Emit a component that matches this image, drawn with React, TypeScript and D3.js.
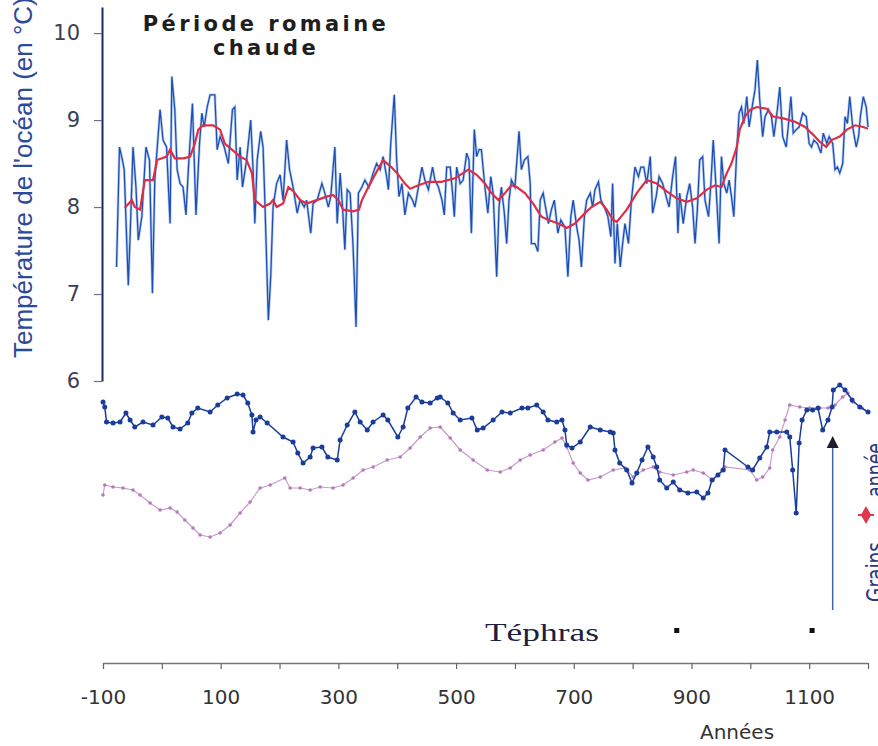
import React, { useRef, useEffect } from 'react';
import * as d3 from 'd3';

// ocean temperature (°C), high resolution record: [year, temp]
const oceanTemp: [number, number][] = [
  [-77, 7.31], [-72, 8.69], [-67, 8.54], [-64, 8.43], [-57, 7.10], [-53, 7.85], [-49, 8.69], [-44, 8.23],
  [-40, 7.62], [-34, 7.89], [-27, 8.69], [-21, 8.54], [-16, 7.01], [-12, 8.31], [-3, 9.12], [2, 8.77],
  [8, 8.69], [14, 7.81], [17, 9.50], [22, 9.12], [26, 8.43], [31, 8.27], [36, 8.23], [41, 7.91],
  [45, 8.43], [52, 9.19], [58, 7.91], [64, 8.73], [68, 9.08], [72, 8.92], [77, 9.15], [82, 9.29],
  [90, 9.29], [94, 8.66], [99, 8.81], [106, 8.69], [113, 8.50], [120, 9.12], [124, 9.15], [128, 8.31],
  [133, 8.69], [137, 8.23], [144, 8.54], [151, 9.00], [155, 8.43], [158, 7.81], [162, 8.54], [168, 8.87],
  [172, 8.69], [175, 8.08], [181, 6.70], [185, 7.20], [189, 8.00], [195, 8.27], [201, 8.37], [206, 8.08],
  [212, 8.77], [217, 8.43], [223, 8.23], [230, 7.93], [235, 8.08], [242, 8.00], [246, 8.08], [253, 7.70],
  [257, 8.04], [264, 8.08], [272, 8.27], [277, 8.16], [283, 8.00], [287, 8.12], [294, 8.69], [298, 7.81],
  [303, 8.39], [307, 8.00], [311, 7.51], [315, 8.20], [320, 8.16], [325, 7.54], [330, 6.62], [334, 8.16],
  [340, 8.23], [345, 8.31], [352, 8.23], [359, 8.39], [365, 8.50], [371, 8.43], [376, 8.58], [382, 8.35],
  [385, 8.20], [389, 8.73], [395, 9.29], [399, 8.54], [403, 8.12], [408, 8.27], [413, 7.91], [419, 8.16],
  [426, 8.08], [430, 8.00], [436, 8.23], [442, 8.46], [447, 8.31], [453, 8.20], [460, 8.46], [464, 8.31],
  [470, 8.23], [476, 8.08], [480, 7.91], [484, 8.46], [490, 8.46], [494, 8.16], [497, 7.89], [501, 8.46],
  [507, 8.27], [512, 8.31], [518, 8.62], [522, 8.54], [526, 7.70], [531, 8.89], [535, 8.58], [539, 8.66],
  [543, 8.66], [549, 8.23], [554, 7.93], [559, 8.35], [563, 8.16], [569, 7.20], [573, 8.00], [577, 8.23],
  [582, 7.93], [586, 7.58], [590, 8.08], [594, 8.31], [600, 8.23], [607, 8.87], [611, 8.43], [616, 8.54],
  [622, 8.58], [626, 8.27], [628, 7.58], [634, 7.58], [639, 7.49], [643, 8.08], [648, 8.16], [652, 8.00],
  [657, 7.81], [662, 7.97], [667, 8.08], [673, 7.70], [678, 7.85], [685, 7.77], [690, 7.20], [695, 7.89],
  [699, 8.08], [705, 7.77], [709, 7.62], [713, 7.31], [718, 7.89], [722, 8.08], [728, 8.16], [732, 8.00],
  [736, 8.20], [742, 8.29], [746, 8.08], [752, 8.00], [758, 7.89], [763, 7.66], [766, 8.27], [770, 7.35],
  [774, 7.81], [779, 7.31], [783, 7.58], [787, 7.81], [793, 7.58], [798, 8.08], [804, 8.46], [810, 8.35],
  [814, 8.46], [819, 8.46], [824, 8.27], [830, 8.58], [834, 7.93], [840, 8.12], [845, 8.35], [851, 8.27],
  [857, 8.12], [862, 8.00], [868, 8.35], [873, 8.58], [877, 7.70], [880, 8.16], [886, 7.81], [892, 8.12],
  [897, 8.27], [902, 8.00], [906, 7.58], [910, 7.97], [914, 8.54], [919, 8.58], [923, 8.08], [929, 7.89],
  [933, 8.27], [937, 8.77], [942, 8.20], [947, 7.58], [951, 8.58], [955, 8.27], [960, 8.16], [964, 8.31],
  [968, 8.12], [972, 7.89], [977, 8.66], [981, 9.08], [985, 9.15], [989, 8.96], [994, 9.27], [998, 8.92],
  [1004, 9.19], [1008, 9.35], [1012, 9.69], [1016, 9.23], [1021, 8.81], [1025, 9.04], [1031, 9.12], [1036, 9.04],
  [1040, 8.81], [1046, 9.12], [1050, 9.38], [1055, 8.81], [1061, 8.69], [1065, 8.96], [1069, 9.27], [1073, 8.85],
  [1078, 8.89], [1083, 8.92], [1089, 9.08], [1095, 9.04], [1100, 8.73], [1104, 8.69], [1108, 8.77], [1114, 8.73],
  [1120, 8.62], [1124, 8.85], [1130, 8.73], [1134, 8.81], [1140, 8.73], [1144, 8.43], [1148, 8.46], [1152, 8.39],
  [1157, 8.50], [1161, 9.04], [1165, 8.96], [1169, 9.27], [1174, 8.92], [1180, 8.69], [1184, 8.81], [1187, 9.04],
  [1192, 9.27], [1197, 9.15], [1200, 8.92],
];

// smoothed temperature curve
const oceanSmooth: [number, number][] = [
  [-63, 7.99], [-51, 8.08], [-46, 8.00], [-37, 7.97], [-29, 8.31], [-15, 8.31], [-8, 8.54], [8, 8.58],
  [14, 8.66], [22, 8.56], [37, 8.56], [48, 8.58], [56, 8.73], [62, 8.89], [70, 8.94], [87, 8.94],
  [99, 8.89], [107, 8.73], [119, 8.66], [133, 8.58], [144, 8.54], [153, 8.39], [158, 8.08], [172, 8.00],
  [184, 8.04], [189, 8.08], [195, 8.00], [206, 8.04], [215, 8.23], [224, 8.18], [235, 8.08], [246, 8.04],
  [263, 8.08], [280, 8.12], [291, 8.14], [300, 8.08], [308, 7.97], [325, 7.95], [335, 7.97], [340, 8.08],
  [351, 8.23], [362, 8.37], [376, 8.54], [390, 8.46], [402, 8.37], [413, 8.27], [422, 8.21], [436, 8.25],
  [453, 8.29], [475, 8.29], [498, 8.33], [521, 8.43], [535, 8.37], [549, 8.27], [560, 8.16], [572, 8.08],
  [583, 8.16], [594, 8.25], [603, 8.23], [617, 8.16], [631, 8.04], [645, 7.89], [657, 7.85], [674, 7.81],
  [688, 7.76], [702, 7.81], [719, 7.93], [730, 8.00], [745, 8.06], [756, 7.97], [767, 7.85], [773, 7.83],
  [790, 7.97], [807, 8.16], [824, 8.31], [841, 8.27], [858, 8.18], [875, 8.10], [892, 8.06], [909, 8.10],
  [926, 8.20], [940, 8.25], [951, 8.23], [960, 8.39], [968, 8.50], [977, 8.69], [982, 8.89], [991, 9.04],
  [1000, 9.12], [1011, 9.15], [1028, 9.13], [1039, 9.04], [1056, 9.02], [1076, 8.98], [1093, 8.92], [1107, 8.83],
  [1118, 8.75], [1129, 8.69], [1138, 8.77], [1152, 8.81], [1164, 8.89], [1178, 8.94], [1192, 8.92], [1200, 8.90],
];

// lower panel, relative index (no axis): dark blue record
const proxyBlue: [number, number][] = [
  [-100, 9.9], [-97, 9.65], [-94, 8.9], [-83, 8.85], [-71, 8.9], [-61, 9.35], [-54, 9.0], [-46, 8.65],
  [-32, 8.9], [-15, 8.75], [0, 9.15], [10, 9.1], [19, 8.65], [31, 8.55], [44, 8.85], [51, 9.35],
  [61, 9.6], [82, 9.4], [95, 9.75], [111, 10.1], [128, 10.3], [138, 10.25], [146, 9.85], [153, 9.25],
  [155, 8.4], [160, 9.0], [167, 9.15], [179, 8.85], [206, 8.15], [223, 7.9], [231, 7.35], [240, 6.85],
  [252, 7.15], [257, 7.6], [272, 7.65], [282, 7.15], [298, 7.0], [303, 8.0], [315, 8.75], [328, 9.4],
  [337, 8.9], [349, 8.5], [359, 8.9], [376, 9.25], [384, 9.0], [401, 8.15], [410, 8.65], [418, 9.6],
  [432, 10.15], [442, 9.9], [456, 9.85], [468, 10.1], [473, 10.15], [486, 9.85], [495, 9.35], [507, 9.0],
  [527, 9.1], [536, 8.5], [546, 8.6], [563, 9.0], [578, 9.4], [592, 9.35], [612, 9.6], [622, 9.6],
  [637, 9.75], [648, 9.4], [656, 9.0], [671, 8.9], [680, 9.0], [685, 8.5], [688, 7.75], [697, 7.6],
  [711, 7.9], [728, 8.65], [745, 8.5], [762, 8.4], [767, 8.35], [770, 7.5], [778, 6.85], [790, 6.5],
  [799, 5.85], [807, 6.35], [816, 7.0], [826, 7.65], [835, 7.15], [841, 6.65], [846, 6.0], [858, 5.6],
  [869, 5.9], [880, 5.5], [894, 5.35], [909, 5.4], [920, 5.1], [928, 5.35], [935, 6.0], [945, 6.25],
  [954, 6.5], [957, 7.5], [996, 6.65], [1004, 6.5], [1016, 7.1], [1028, 7.65], [1033, 8.4], [1045, 8.4],
  [1062, 8.4], [1067, 8.15], [1072, 6.5], [1078, 4.35], [1083, 7.85], [1088, 9.0], [1096, 9.5], [1106, 9.5],
  [1115, 9.6], [1123, 8.5], [1132, 9.0], [1139, 9.65], [1141, 10.5], [1152, 10.75], [1161, 10.5], [1173, 10.0],
  [1186, 9.65], [1200, 9.4],
];

// lower panel, relative index: pink record
const proxyPink: [number, number][] = [
  [-100, 5.25], [-97, 5.75], [-83, 5.65], [-66, 5.6], [-49, 5.5], [-37, 5.25], [-20, 4.85], [-3, 4.5],
  [14, 4.6], [26, 4.4], [39, 4.0], [53, 3.6], [65, 3.25], [82, 3.15], [99, 3.35], [116, 3.75],
  [133, 4.35], [150, 4.9], [167, 5.6], [184, 5.75], [209, 6.1], [218, 5.6], [235, 5.6], [252, 5.5],
  [269, 5.65], [291, 5.6], [308, 5.75], [325, 6.1], [342, 6.5], [359, 6.65], [383, 7.0], [405, 7.15],
  [422, 7.6], [439, 8.15], [456, 8.6], [473, 8.65], [490, 8.1], [507, 7.5], [529, 7.0], [553, 6.5],
  [575, 6.4], [592, 6.6], [609, 7.0], [626, 7.25], [648, 7.5], [668, 7.9], [680, 8.1], [688, 7.65],
  [699, 6.85], [711, 6.35], [724, 6.0], [745, 6.15], [767, 6.5], [787, 6.6], [801, 6.15], [818, 6.5],
  [835, 6.65], [846, 6.4], [869, 6.25], [892, 6.4], [903, 6.5], [920, 6.35], [937, 6.0], [952, 6.5],
  [957, 6.65], [999, 6.5], [1011, 6.0], [1021, 6.15], [1033, 6.6], [1038, 7.5], [1050, 8.15], [1059, 9.0],
  [1067, 9.75], [1084, 9.65], [1101, 9.6], [1118, 9.6], [1132, 9.6], [1144, 9.75], [1157, 10.15], [1166, 10.35],
  [1174, 9.9], [1190, 9.6], [1200, 9.4],
];

const tephraYears = [875, 1105];
const arrowYear = 1140;
const xTicks = d3.range(-100, 1201, 100);
const xLabels = [-100, 100, 300, 500, 700, 900, 1100];
const yTicks = [6, 7, 8, 9, 10];

const App = () => {
  const ref = useRef<SVGSVGElement>(null);

  useEffect(() => {
    const svg = d3.select(ref.current);
    svg.selectAll('*').remove();

    const x = d3.scaleLinear().domain([-100, 1200]).range([103, 868]);
    const yTemp = d3.scaleLinear().domain([6, 10.3]).range([381, 7]);
    const yIdx = d3.scaleLinear().domain([0, 10]).range([600, 400]);

    svg.append('rect').attr('width', 878).attr('height', 746).attr('fill', '#fff');

    // Y axis (temperature)
    const gy = svg.append('g')
      .attr('transform', 'translate(102,0)')
      .call(d3.axisLeft(yTemp).tickValues(yTicks).tickSize(8).tickSizeOuter(0).tickPadding(14).tickFormat(d => String(d)));
    gy.select('.domain').attr('stroke', '#1c2a66').attr('stroke-width', 2);
    gy.selectAll('.tick line').attr('stroke', '#6a6f88').attr('stroke-width', 1.2);
    gy.selectAll('.tick text')
      .attr('font-family', 'DejaVu Sans, sans-serif')
      .attr('font-size', 21)
      .attr('fill', '#3a3f55');

    svg.append('text')
      .attr('transform', 'translate(32,358) rotate(-90)')
      .attr('font-family', 'Liberation Sans, Arial, sans-serif')
      .attr('font-size', 26)
      .attr('fill', '#2b4a9a')
      .text("Température de l'océan (en °C)");

    // title, two lines
    ['Période romaine', 'chaude'].forEach((t, i) => {
      svg.append('text')
        .attr('x', 266).attr('y', i === 0 ? 31 : 55)
        .attr('text-anchor', 'middle')
        .attr('font-family', 'DejaVu Sans, sans-serif')
        .attr('font-weight', 'bold')
        .attr('font-size', 21)
        .attr('letter-spacing', 3.4)
        .attr('fill', '#1e1e1e')
        .text(t);
    });

    // X axis
    const gx = svg.append('g')
      .attr('transform', 'translate(0,663)')
      .call(d3.axisBottom(x).tickValues(xTicks).tickSize(6).tickSizeOuter(0).tickPadding(21)
        .tickFormat(d => (xLabels.includes(+d) ? String(d) : '')));
    gx.select('.domain').attr('stroke', '#777').attr('stroke-width', 1.5);
    gx.selectAll('.tick line').attr('stroke', '#666').attr('stroke-width', 1.2);
    gx.selectAll('.tick text')
      .attr('font-family', 'DejaVu Sans, sans-serif')
      .attr('font-size', 20)
      .attr('fill', '#333');

    svg.append('text')
      .attr('x', 700).attr('y', 739)
      .attr('font-family', 'DejaVu Sans, sans-serif')
      .attr('font-size', 20)
      .attr('fill', '#333')
      .text('Années');

    // upper panel
    const lineT = d3.line<[number, number]>().x(d => x(d[0])).y(d => yTemp(d[1]));
    svg.append('path').datum(oceanTemp).attr('d', lineT)
      .attr('fill', 'none').attr('stroke', '#8fb0e6').attr('stroke-width', 2.8).attr('opacity', 0.6);
    svg.append('path').datum(oceanTemp).attr('d', lineT)
      .attr('fill', 'none').attr('stroke', '#1d4fb3').attr('stroke-width', 1.3);
    svg.append('path').datum(oceanSmooth).attr('d', lineT)
      .attr('fill', 'none').attr('stroke', '#dc2f45').attr('stroke-width', 2.2);

    // lower panel
    const lineI = d3.line<[number, number]>().x(d => x(d[0])).y(d => yIdx(d[1]));
    svg.append('path').datum(proxyPink).attr('d', lineI)
      .attr('fill', 'none').attr('stroke', '#c79ad0').attr('stroke-width', 1.2);
    svg.selectAll('.pink-dot').data(proxyPink).enter().append('circle')
      .attr('class', 'pink-dot')
      .attr('cx', d => x(d[0])).attr('cy', d => yIdx(d[1])).attr('r', 1.8)
      .attr('fill', '#b77ab9');

    svg.append('path').datum(proxyBlue).attr('d', lineI)
      .attr('fill', 'none').attr('stroke', '#1a3d9a').attr('stroke-width', 1.5);
    svg.selectAll('.blue-dot').data(proxyBlue).enter().append('circle')
      .attr('class', 'blue-dot')
      .attr('cx', d => x(d[0])).attr('cy', d => yIdx(d[1])).attr('r', 2.5)
      .attr('fill', '#1a3d9a');

    // arrow
    const ax = x(arrowYear);
    svg.append('line').attr('x1', ax).attr('x2', ax).attr('y1', 610).attr('y2', 446)
      .attr('stroke', '#3f62b5').attr('stroke-width', 1.5);
    svg.append('path')
      .attr('d', `M${ax},436 L${ax - 6},448 L${ax + 6},448 Z`)
      .attr('fill', '#1e1e2a');

    // side legend, cut by the right edge as in the original
    const sideLabel = (t: string, y0: number, len: number) =>
      svg.append('text')
        .attr('transform', `translate(884,${y0}) rotate(-90)`)
        .attr('font-family', 'DejaVu Sans, sans-serif')
        .attr('font-size', 25)
        .attr('textLength', len)
        .attr('lengthAdjust', 'spacingAndGlyphs')
        .attr('fill', '#2a3a7a')
        .text(t);
    sideLabel('Grains', 602, 60);
    sideLabel('année', 497, 54);
    svg.append('path')
      .attr('d', 'M866,508 L870,515 L866,522 L862,515 Z M858,515 L874,515')
      .attr('fill', '#e0384f').attr('stroke', '#e0384f').attr('stroke-width', 2);

    // tephras
    svg.append('text')
      .attr('x', 485).attr('y', 641)
      .attr('font-family', 'Liberation Serif, serif')
      .attr('font-size', 26)
      .attr('textLength', 114)
      .attr('lengthAdjust', 'spacingAndGlyphs')
      .attr('fill', '#1a2040')
      .text('Téphras');
    svg.selectAll('.tephra').data(tephraYears).enter().append('rect')
      .attr('class', 'tephra')
      .attr('x', d => x(d) - 2.5).attr('y', 628).attr('width', 5).attr('height', 5)
      .attr('fill', '#111');
  }, []);

  return (
    <svg ref={ref} width={878} height={746} style={{ position: 'absolute', left: 0, top: 0 }} />
  );
};

export default App;
